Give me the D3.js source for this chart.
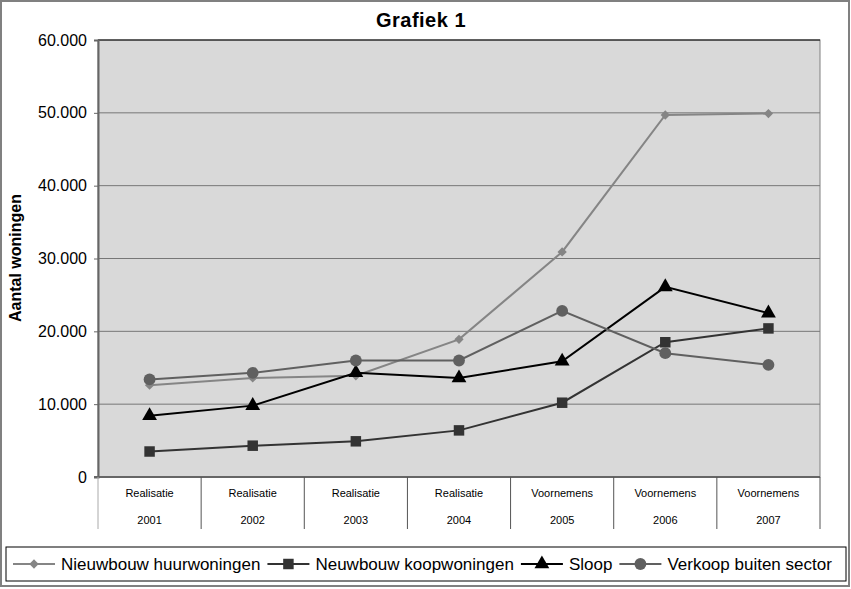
<!DOCTYPE html>
<html>
<head>
<meta charset="utf-8">
<title>Grafiek 1</title>
<style>
    html, body { margin: 0; background: #fff; }
    svg { display: block; font-family: "Liberation Sans", Arial, sans-serif; }
</style>
</head>
<body>
<svg id="chart" width="851" height="589"></svg>
<script src="https://cdn.jsdelivr.net/npm/d3@7"></script>
<script>
    "use strict";

    const periods = ["Realisatie", "Realisatie", "Realisatie", "Realisatie", "Voornemens", "Voornemens", "Voornemens"];
    const years = ["2001", "2002", "2003", "2004", "2005", "2006", "2007"];
    const huur = [12600, 13600, 13900, 18900, 30900, 49700, 49900];
    const koop = [3500, 4300, 4900, 6400, 10200, 18500, 20400];
    const sloop = [8400, 9800, 14300, 13600, 15900, 26100, 22500];
    const verkoop = [13400, 14300, 16000, 16000, 22800, 17000, 15400];
    const yTicks = [0, 10000, 20000, 30000, 40000, 50000, 60000];

    const series = [
        {name: "Nieuwbouw  huurwoningen", values: huur, color: "#858585", symbol: d3.symbolDiamond2, size: 55},
        {name: "Neuwbouw  koopwoningen", values: koop, color: "#333333", symbol: d3.symbolSquare, size: 110},
        {name: "Sloop", values: sloop, color: "#000000", symbol: d3.symbolTriangle, size: 95},
        {name: "Verkoop buiten sector", values: verkoop, color: "#606060", symbol: d3.symbolCircle, size: 110}
    ];

    const svg = d3.select("#chart");
    const plotL = 98, plotR = 820, plotT = 40, plotB = 477;

    // outer frame
    svg.append("rect").attr("x", 1).attr("y", 1).attr("width", 848).attr("height", 585)
        .attr("fill", "#fff").attr("stroke", "#808080").attr("stroke-width", 2);

    const x = d3.scaleBand().domain(years).range([plotL, plotR]);
    const y = d3.scaleLinear().domain([0, 60000]).range([plotB, plotT]);

    // plot background
    svg.append("rect").attr("x", plotL).attr("y", plotT).attr("width", plotR - plotL).attr("height", plotB - plotT)
        .attr("fill", "#d9d9d9").attr("stroke", "#808080");

    // gridlines
    svg.append("g").selectAll("line").data(yTicks.filter(d => d > 0)).join("line")
        .attr("x1", plotL).attr("x2", plotR)
        .attr("y1", d => y(d)).attr("y2", d => y(d))
        .attr("stroke", d => d === 60000 ? "#000" : "#777").attr("stroke-width", 1);

    // y axis
    const yAxis = svg.append("g").attr("transform", `translate(${plotL},0)`)
        .call(d3.axisLeft(y).tickValues(yTicks).tickSize(4).tickPadding(7)
            .tickFormat(d => d === 0 ? "0" : d3.format(",")(d).replace(/,/g, ".")));
    yAxis.select(".domain").attr("stroke", "#666").attr("stroke-width", 2);
    yAxis.selectAll(".tick line").attr("stroke", "#666");
    yAxis.selectAll("text").attr("font-size", 16).attr("fill", "#000");

    // x axis base line
    svg.append("line").attr("x1", plotL - 4).attr("x2", plotR).attr("y1", plotB).attr("y2", plotB)
        .attr("stroke", "#666").attr("stroke-width", 2);

    // category separators
    const seps = years.map(d => x(d)).concat([plotR]);
    svg.append("g").selectAll("line").data(seps).join("line")
        .attr("x1", d => d).attr("x2", d => d)
        .attr("y1", plotB).attr("y2", 529)
        .attr("stroke", (d, i) => i === 0 ? "#aaa" : "#555").attr("stroke-width", 1);

    const cats = svg.append("g").attr("font-size", 11).attr("text-anchor", "middle").attr("fill", "#000");
    cats.selectAll(".per").data(years).join("text").attr("class", "per")
        .attr("x", d => x(d) + x.bandwidth() / 2).attr("y", 497)
        .text((d, i) => periods[i]);
    cats.selectAll(".yr").data(years).join("text").attr("class", "yr")
        .attr("x", d => x(d) + x.bandwidth() / 2).attr("y", 524)
        .text(d => d);

    // lines
    const line = d3.line()
        .x((d, i) => x(years[i]) + x.bandwidth() / 2)
        .y(d => y(d));

    series.forEach(s => {
        svg.append("path").datum(s.values)
            .attr("fill", "none").attr("stroke", s.color).attr("stroke-width", 2)
            .attr("d", line);
        svg.append("g").selectAll("path").data(s.values).join("path")
            .attr("transform", (d, i) => `translate(${x(years[i]) + x.bandwidth() / 2},${y(d)})`)
            .attr("d", d3.symbol().type(s.symbol).size(s.size))
            .attr("fill", s.color);
    });

    // title
    svg.append("text").attr("x", 421).attr("y", 27).attr("text-anchor", "middle")
        .attr("font-size", 20).attr("font-weight", "bold").attr("letter-spacing", "0.5").text("Grafiek 1");

    // y label
    svg.append("text").attr("transform", "translate(21,258) rotate(-90)").attr("text-anchor", "middle")
        .attr("font-size", 16).attr("font-weight", "bold").text("Aantal woningen");

    // legend
    svg.append("rect").attr("x", 6).attr("y", 547).attr("width", 840).attr("height", 34)
        .attr("fill", "#fff").attr("stroke", "#000");
    const leg = svg.append("g").attr("font-size", 17);
    let cx = 13;
    series.forEach(s => {
        const g = leg.append("g").attr("transform", `translate(${cx},564)`);
        g.append("line").attr("x1", 0).attr("x2", 42).attr("stroke", s.color).attr("stroke-width", 2);
        g.append("path").attr("transform", "translate(21,0)")
            .attr("d", d3.symbol().type(s.symbol).size(s.size)).attr("fill", s.color);
        const t = g.append("text").attr("x", 48).attr("y", 6).attr("fill", "#000").text(s.name);
        cx += 48 + t.node().getComputedTextLength() + 7;
    });
</script>
</body>
</html>
